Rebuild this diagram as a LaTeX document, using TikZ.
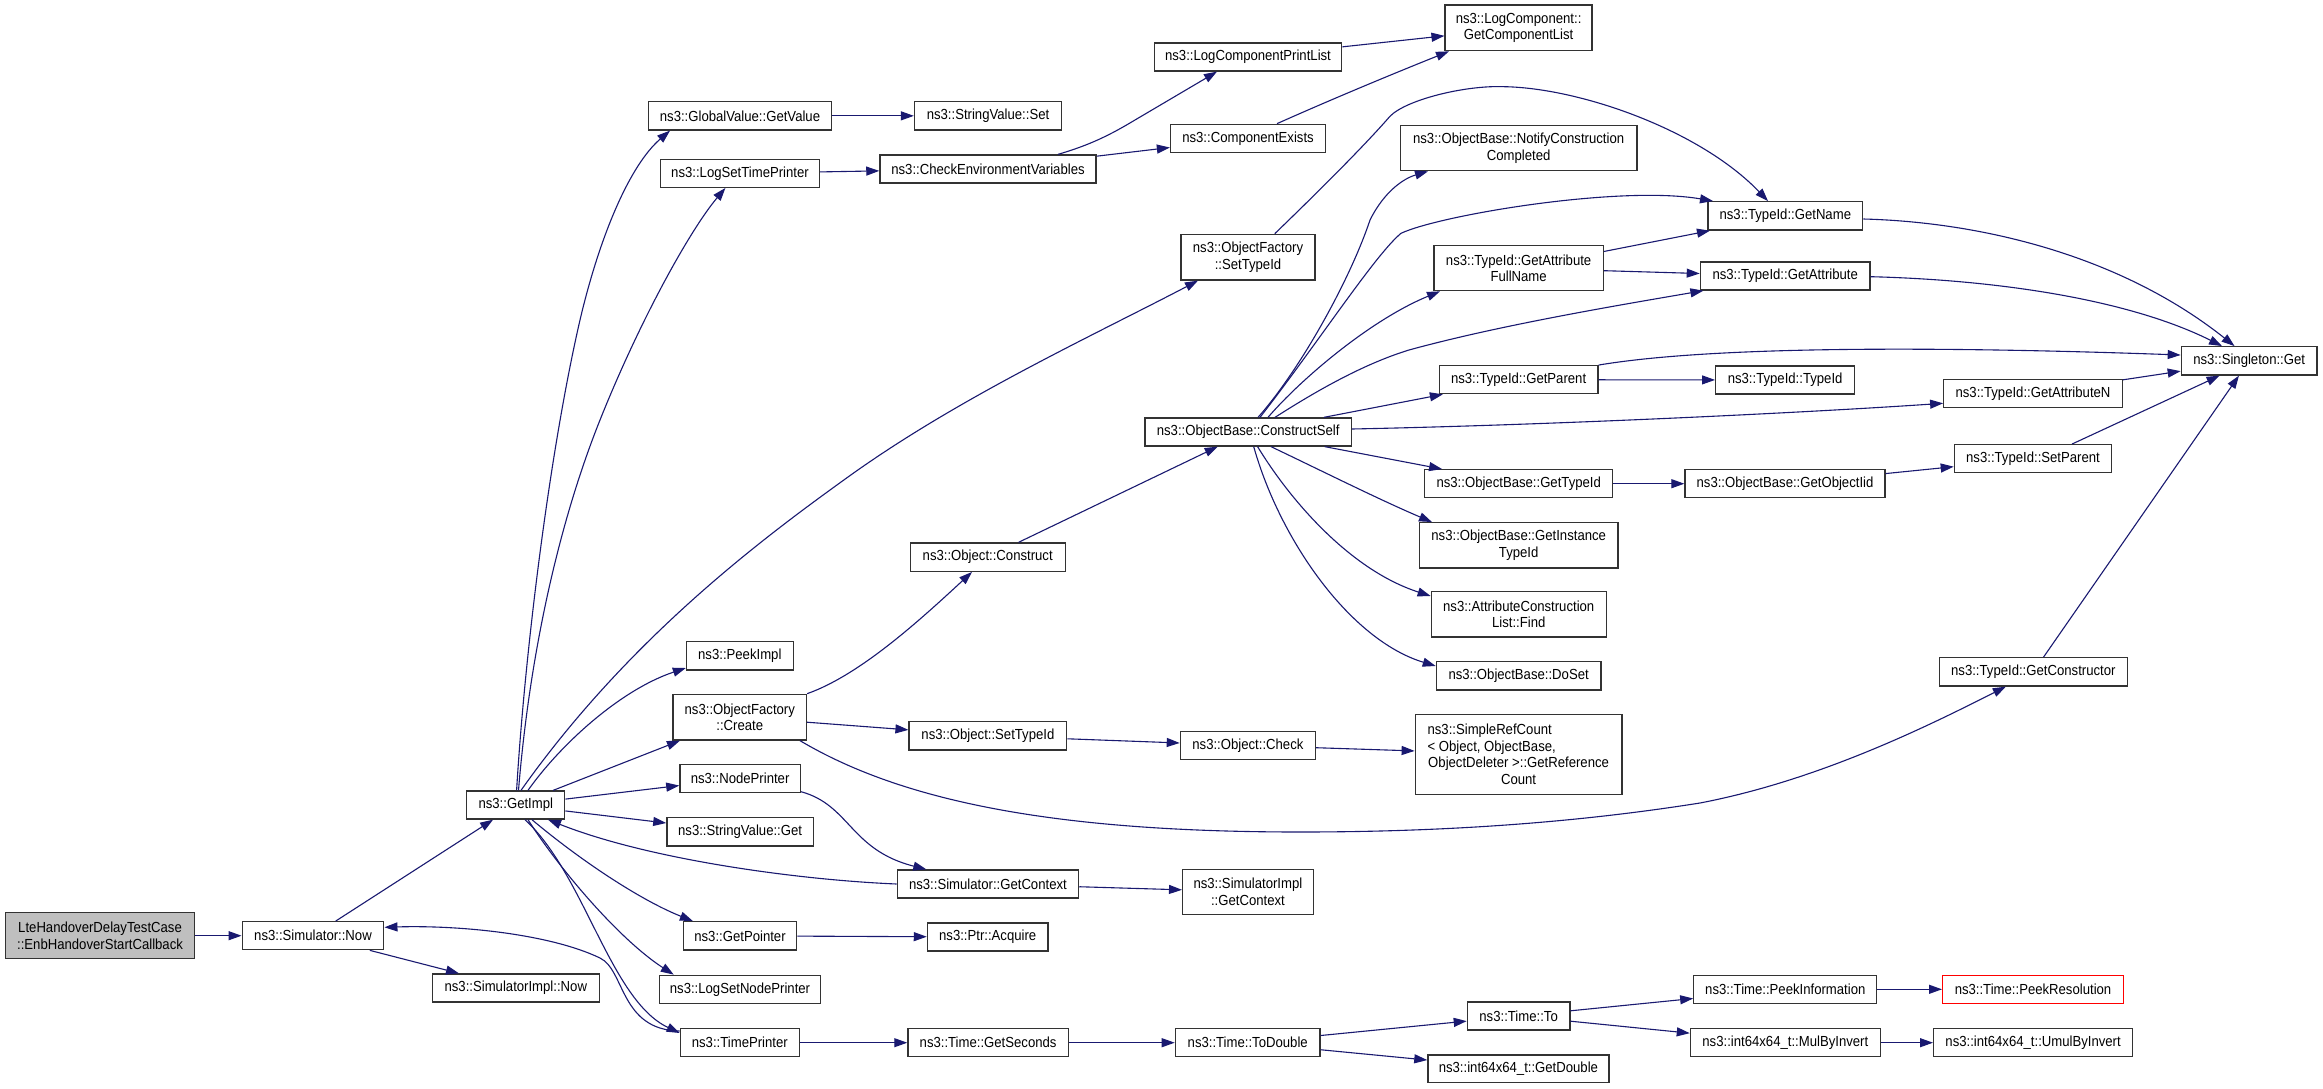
\documentclass[tikz,border=0pt]{standalone}
\usepackage{fontspec}
\setmainfont{Liberation Sans}[FakeStretch=0.9]
\usetikzlibrary{arrows.meta}
\definecolor{edgeblue}{HTML}{191970}
\definecolor{ltefill}{HTML}{BFBFBF}
\definecolor{nodeline}{HTML}{333333}
\begin{document}
\begin{tikzpicture}[x=1pt,y=-1pt,
  fn/.style={draw=nodeline, line width=1.3pt, rectangle, inner sep=0pt, align=center,
    font=\fontsize{14.6pt}{16.7pt}\selectfont},
  ed/.style={draw=edgeblue, line width=1.1pt, -{Triangle[length=13pt,width=9pt]}}]
\fill[white] (0,0) rectangle (2323,1089);
\useasboundingbox (0,0) rectangle (2323,1089);
% nodes
\node[fn, fill=ltefill, minimum width=188.7pt, minimum height=46pt] (n_lte) at (100.05,935.7) {LteHandoverDelayTestCase\\::EnbHandoverStartCallback};
\node[fn, minimum width=141.6pt, minimum height=28pt] (n_now) at (313,935.7) {ns3::Simulator::Now};
\node[fn, minimum width=98pt, minimum height=28pt] (n_getimpl) at (515.8,805) {ns3::GetImpl};
\node[fn, minimum width=166.8pt, minimum height=28pt] (n_simimplnow) at (515.8,988) {ns3::SimulatorImpl::Now};
\node[fn, minimum width=182.9pt, minimum height=28.3pt] (n_gvget) at (740,115.85) {ns3::GlobalValue::GetValue};
\node[fn, minimum width=147pt, minimum height=28.3pt] (n_svset) at (988,115.85) {ns3::StringValue::Set};
\node[fn, minimum width=158.8pt, minimum height=28pt] (n_logsettp) at (740,173.3) {ns3::LogSetTimePrinter};
\node[fn, minimum width=216.2pt, minimum height=28pt] (n_checkenv) at (988,169) {ns3::CheckEnvironmentVariables};
\node[fn, minimum width=187.4pt, minimum height=28pt] (n_lcpl) at (1248,57) {ns3::LogComponentPrintList};
\node[fn, minimum width=147pt, minimum height=45.7pt] (n_lcgcl) at (1518.6,27.85) {ns3::LogComponent::\\GetComponentList};
\node[fn, minimum width=155pt, minimum height=28pt] (n_compex) at (1248,138.3) {ns3::ComponentExists};
\node[fn, minimum width=236.5pt, minimum height=45.4pt] (n_notify) at (1518.6,148) {ns3::ObjectBase::NotifyConstruction\\Completed};
\node[fn, minimum width=134pt, minimum height=45.7pt] (n_ofsettid) at (1248,257.15) {ns3::ObjectFactory\\::SetTypeId};
\node[fn, minimum width=154.7pt, minimum height=28.3pt] (n_getname) at (1785.3,215.85) {ns3::TypeId::GetName};
\node[fn, minimum width=169.5pt, minimum height=45pt] (n_gafn) at (1518.6,268.2) {ns3::TypeId::GetAttribute\\FullName};
\node[fn, minimum width=169.7pt, minimum height=28pt] (n_getattr) at (1785.2,276) {ns3::TypeId::GetAttribute};
\node[fn, minimum width=135.7pt, minimum height=28.3pt] (n_singleton) at (2249.15,360.85) {ns3::Singleton::Get};
\node[fn, minimum width=158.8pt, minimum height=28pt] (n_getparent) at (1518.6,379.7) {ns3::TypeId::GetParent};
\node[fn, minimum width=138.9pt, minimum height=28pt] (n_typeid) at (1785.1,380) {ns3::TypeId::TypeId};
\node[fn, minimum width=178.5pt, minimum height=28pt] (n_getattrn) at (2033,393.3) {ns3::TypeId::GetAttributeN};
\node[fn, minimum width=206.3pt, minimum height=28pt] (n_cself) at (1248.15,432) {ns3::ObjectBase::ConstructSelf};
\node[fn, minimum width=187.9pt, minimum height=28pt] (n_obgettid) at (1518.7,483.7) {ns3::ObjectBase::GetTypeId};
\node[fn, minimum width=200pt, minimum height=28pt] (n_getoiid) at (1785,483.7) {ns3::ObjectBase::GetObjectIid};
\node[fn, minimum width=157.3pt, minimum height=28pt] (n_setparent) at (2033,458.7) {ns3::TypeId::SetParent};
\node[fn, minimum width=198.6pt, minimum height=45.3pt] (n_getinst) at (1518.7,545.35) {ns3::ObjectBase::GetInstance\\TypeId};
\node[fn, minimum width=174.9pt, minimum height=45.3pt] (n_find) at (1518.7,614.35) {ns3::AttributeConstruction\\List::Find};
\node[fn, minimum width=164.5pt, minimum height=28.3pt] (n_doset) at (1518.6,675.85) {ns3::ObjectBase::DoSet};
\node[fn, minimum width=188.1pt, minimum height=28.3pt] (n_getctor) at (2033.3,671.85) {ns3::TypeId::GetConstructor};
\node[fn, minimum width=155pt, minimum height=28.3pt] (n_construct) at (987.7,557.15) {ns3::Object::Construct};
\node[fn, minimum width=106.7pt, minimum height=28.3pt] (n_peekimpl) at (739.8,655.85) {ns3::PeekImpl};
\node[fn, minimum width=133.5pt, minimum height=45.7pt] (n_create) at (739.8,717.15) {ns3::ObjectFactory\\::Create};
\node[fn, minimum width=157.7pt, minimum height=28.3pt] (n_osettid) at (987.9,735.85) {ns3::Object::SetTypeId};
\node[fn, minimum width=135.1pt, minimum height=28pt] (n_check) at (1247.9,745.5) {ns3::Object::Check};
\node[fn, minimum width=206.7pt, minimum height=80pt] (n_simple) at (1518.6,754.3) {\makebox[182pt][l]{ns3::SimpleRefCount}\\\makebox[182pt][l]{< Object, ObjectBase,}\\ObjectDeleter >::GetReference\\Count};
\node[fn, minimum width=120.5pt, minimum height=28pt] (n_nodepr) at (740.1,778.3) {ns3::NodePrinter};
\node[fn, minimum width=146.5pt, minimum height=28.3pt] (n_svget) at (740.1,831.85) {ns3::StringValue::Get};
\node[fn, minimum width=181.4pt, minimum height=28pt] (n_simgetctx) at (987.9,884) {ns3::Simulator::GetContext};
\node[fn, minimum width=130.5pt, minimum height=45pt] (n_simimplctx) at (1247.9,891.8) {ns3::SimulatorImpl\\::GetContext};
\node[fn, minimum width=113.3pt, minimum height=28.3pt] (n_getptr) at (740,935.85) {ns3::GetPointer};
\node[fn, minimum width=120.6pt, minimum height=28pt] (n_acquire) at (987.7,937) {ns3::Ptr::Acquire};
\node[fn, minimum width=161.5pt, minimum height=28pt] (n_logsetnp) at (740,989.3) {ns3::LogSetNodePrinter};
\node[fn, minimum width=119pt, minimum height=28pt] (n_timepr) at (739.8,1042.7) {ns3::TimePrinter};
\node[fn, minimum width=160.4pt, minimum height=28pt] (n_getsec) at (988.1,1042.7) {ns3::Time::GetSeconds};
\node[fn, minimum width=144.7pt, minimum height=28pt] (n_todouble) at (1247.7,1042.7) {ns3::Time::ToDouble};
\node[fn, minimum width=102.5pt, minimum height=28pt] (n_to) at (1518.6,1016) {ns3::Time::To};
\node[fn, minimum width=181pt, minimum height=27.7pt] (n_getdouble) at (1518.4,1068.85) {ns3::int64x64\_t::GetDouble};
\node[fn, minimum width=183pt, minimum height=28pt] (n_peekinfo) at (1785.3,989.3) {ns3::Time::PeekInformation};
\node[fn, draw=red, minimum width=180.7pt, minimum height=28pt] (n_peekres) at (2033,989.3) {ns3::Time::PeekResolution};
\node[fn, minimum width=189.8pt, minimum height=28pt] (n_mulinv) at (1785.3,1042.7) {ns3::int64x64\_t::MulByInvert};
\node[fn, minimum width=198.9pt, minimum height=28pt] (n_umulinv) at (2033.1,1042.7) {ns3::int64x64\_t::UmulByInvert};
% edges
\draw[ed] (n_lte) -- (n_now);
\draw[ed] (n_now) -- (n_getimpl);
\draw[ed] (n_now) -- (n_simimplnow);
\draw[ed] (n_getimpl.north -| 516.6,0) .. controls (525,650) and (550,450) .. (580,320) .. controls (600,235) and (630,165) .. (n_gvget.south -| 670,0);
\draw[ed] (n_getimpl.north -| 518.5,0) .. controls (530,650) and (560,520) .. (600,420) .. controls (640,320) and (690,230) .. (n_logsettp.south -| 725.4,0);
\draw[ed] (n_getimpl.north -| 521,0) .. controls (631,635) and (768,534.6) .. (848,477) .. controls (958,398) and (1088,338) .. (n_ofsettid.south -| 1198,0);
\draw[ed] (n_getimpl.north -| 528,0) .. controls (560,745) and (620,690) .. (n_peekimpl.west |- 0,668);
\draw[ed] (n_getimpl) -- (n_create);
\draw[ed] (n_getimpl) -- (n_nodepr);
\draw[ed] (n_getimpl) -- (n_svget);
\draw[ed] (n_simgetctx.west) .. controls (800,880) and (650,860) .. (n_getimpl.south -| 548,0);
\draw[ed] (n_getimpl.south -| 531.9,0) .. controls (580,860) and (640,900) .. (n_getptr.north -| 692.9,0);
\draw[ed] (n_getimpl.south -| 528,0) .. controls (560,870) and (620,940) .. (n_logsetnp.north -| 673.7,0);
\draw[ed] (n_getimpl.south -| 525,0) .. controls (585,875) and (610,1000) .. (n_timepr.west |- 0,1033);
\draw[ed] (n_timepr.west |- 0,1031) .. controls (620,1030) and (625,970) .. (600,958) .. controls (550,934) and (460,925) .. (n_now.east |- 0,927.3);
\draw[ed] (n_gvget) -- (n_svset);
\draw[ed] (n_logsettp) -- (n_checkenv);
\draw[ed] (n_checkenv.north -| 1058,0) .. controls (1090,145) and (1110,135) .. (1135,120) -- (n_lcpl.south -| 1217,0);
\draw[ed] (n_checkenv) -- (n_compex);
\draw[ed] (n_lcpl) -- (n_lcgcl);
\draw[ed] (n_compex.north -| 1277,0) .. controls (1330,100) and (1390,75) .. (n_lcgcl.south -| 1449,0);
\draw[ed] (n_ofsettid.north -| 1274.8,0) .. controls (1320,190) and (1365,145) .. (1389.6,116.7) .. controls (1405,100) and (1465,85) .. (1504.4,86.7) .. controls (1580,88) and (1700,130) .. (n_getname.north -| 1768,0);
\draw[ed] (n_create.north east) .. controls (860,675) and (920,620) .. (n_construct.south -| 972,0);
\draw[ed] (n_create) -- (n_osettid);
\draw[ed] (n_create.south -| 800,0) .. controls (900,800) and (1050,832) .. (1300,832) .. controls (1450,832) and (1580,822) .. (1700,803) .. controls (1820,780) and (1930,725) .. (n_getctor.south -| 2005.8,0);
\draw[ed] (n_nodepr.east |- 0,791.7) .. controls (850,805) and (850,850) .. (n_simgetctx.north -| 926.3,0);
\draw[ed] (n_simgetctx) -- (n_simimplctx);
\draw[ed] (n_getptr) -- (n_acquire);
\draw[ed] (n_timepr) -- (n_getsec);
\draw[ed] (n_getsec) -- (n_todouble);
\draw[ed] (n_construct) -- (n_cself);
\draw[ed] (n_osettid) -- (n_check);
\draw[ed] (n_check) -- (n_simple);
\draw[ed] (n_cself.north -| 1258,0) .. controls (1300,370) and (1350,280) .. (1370,220) .. controls (1385,190) and (1405,178) .. (n_notify.south -| 1428,0);
\draw[ed] (n_cself.north -| 1260,0) .. controls (1320,340) and (1375,255) .. (1401,233.3) .. controls (1440,215) and (1620,185) .. (n_getname.north -| 1713,0);
\draw[ed] (n_cself.north -| 1268,0) .. controls (1300,380) and (1370,320) .. (n_gafn.south -| 1440,0);
\draw[ed] (n_cself.north -| 1275,0) .. controls (1310,395) and (1360,365) .. (1409,350) .. controls (1500,325) and (1620,305) .. (n_getattr.south -| 1703.4,0);
\draw[ed] (n_cself) -- (n_getparent);
\draw[ed] (n_cself.east |- 0,429) .. controls (1550,425) and (1800,413) .. (n_getattrn.west |- 0,403.3);
\draw[ed] (n_cself) -- (n_obgettid);
\draw[ed] (n_cself.south -| 1271,0) .. controls (1320,470) and (1380,500) .. (n_getinst.north -| 1432,0);
\draw[ed] (n_cself.south -| 1257.6,0) .. controls (1290,500) and (1350,570) .. (n_find.west |- 0,596);
\draw[ed] (n_cself.south -| 1253.7,0) .. controls (1280,540) and (1350,640) .. (n_doset.west |- 0,666);
\draw[ed] (n_gafn) -- (n_getname);
\draw[ed] (n_gafn) -- (n_getattr);
\draw[ed] (n_getname.east |- 0,219) .. controls (1980,222) and (2120,255) .. (n_singleton.north -| 2234.5,0);
\draw[ed] (n_getattr.east |- 0,276.7) .. controls (2000,280) and (2130,300) .. (n_singleton.north -| 2222,0);
\draw[ed] (n_getparent) -- (n_typeid);
\draw[ed] (n_getparent.north east) .. controls (1700,348) and (1900,345) .. (n_singleton.west |- 0,355);
\draw[ed] (n_getattrn) -- (n_singleton);
\draw[ed] (n_obgettid) -- (n_getoiid);
\draw[ed] (n_getoiid) -- (n_setparent);
\draw[ed] (n_setparent.north -| 2072,0) -- (n_singleton.south -| 2219.6,0);
\draw[ed] (n_getctor) -- (n_singleton);
\draw[ed] (n_todouble) -- (n_to);
\draw[ed] (n_todouble) -- (n_getdouble);
\draw[ed] (n_to) -- (n_peekinfo);
\draw[ed] (n_to) -- (n_mulinv);
\draw[ed] (n_peekinfo) -- (n_peekres);
\draw[ed] (n_mulinv) -- (n_umulinv);
\end{tikzpicture}
\end{document}
